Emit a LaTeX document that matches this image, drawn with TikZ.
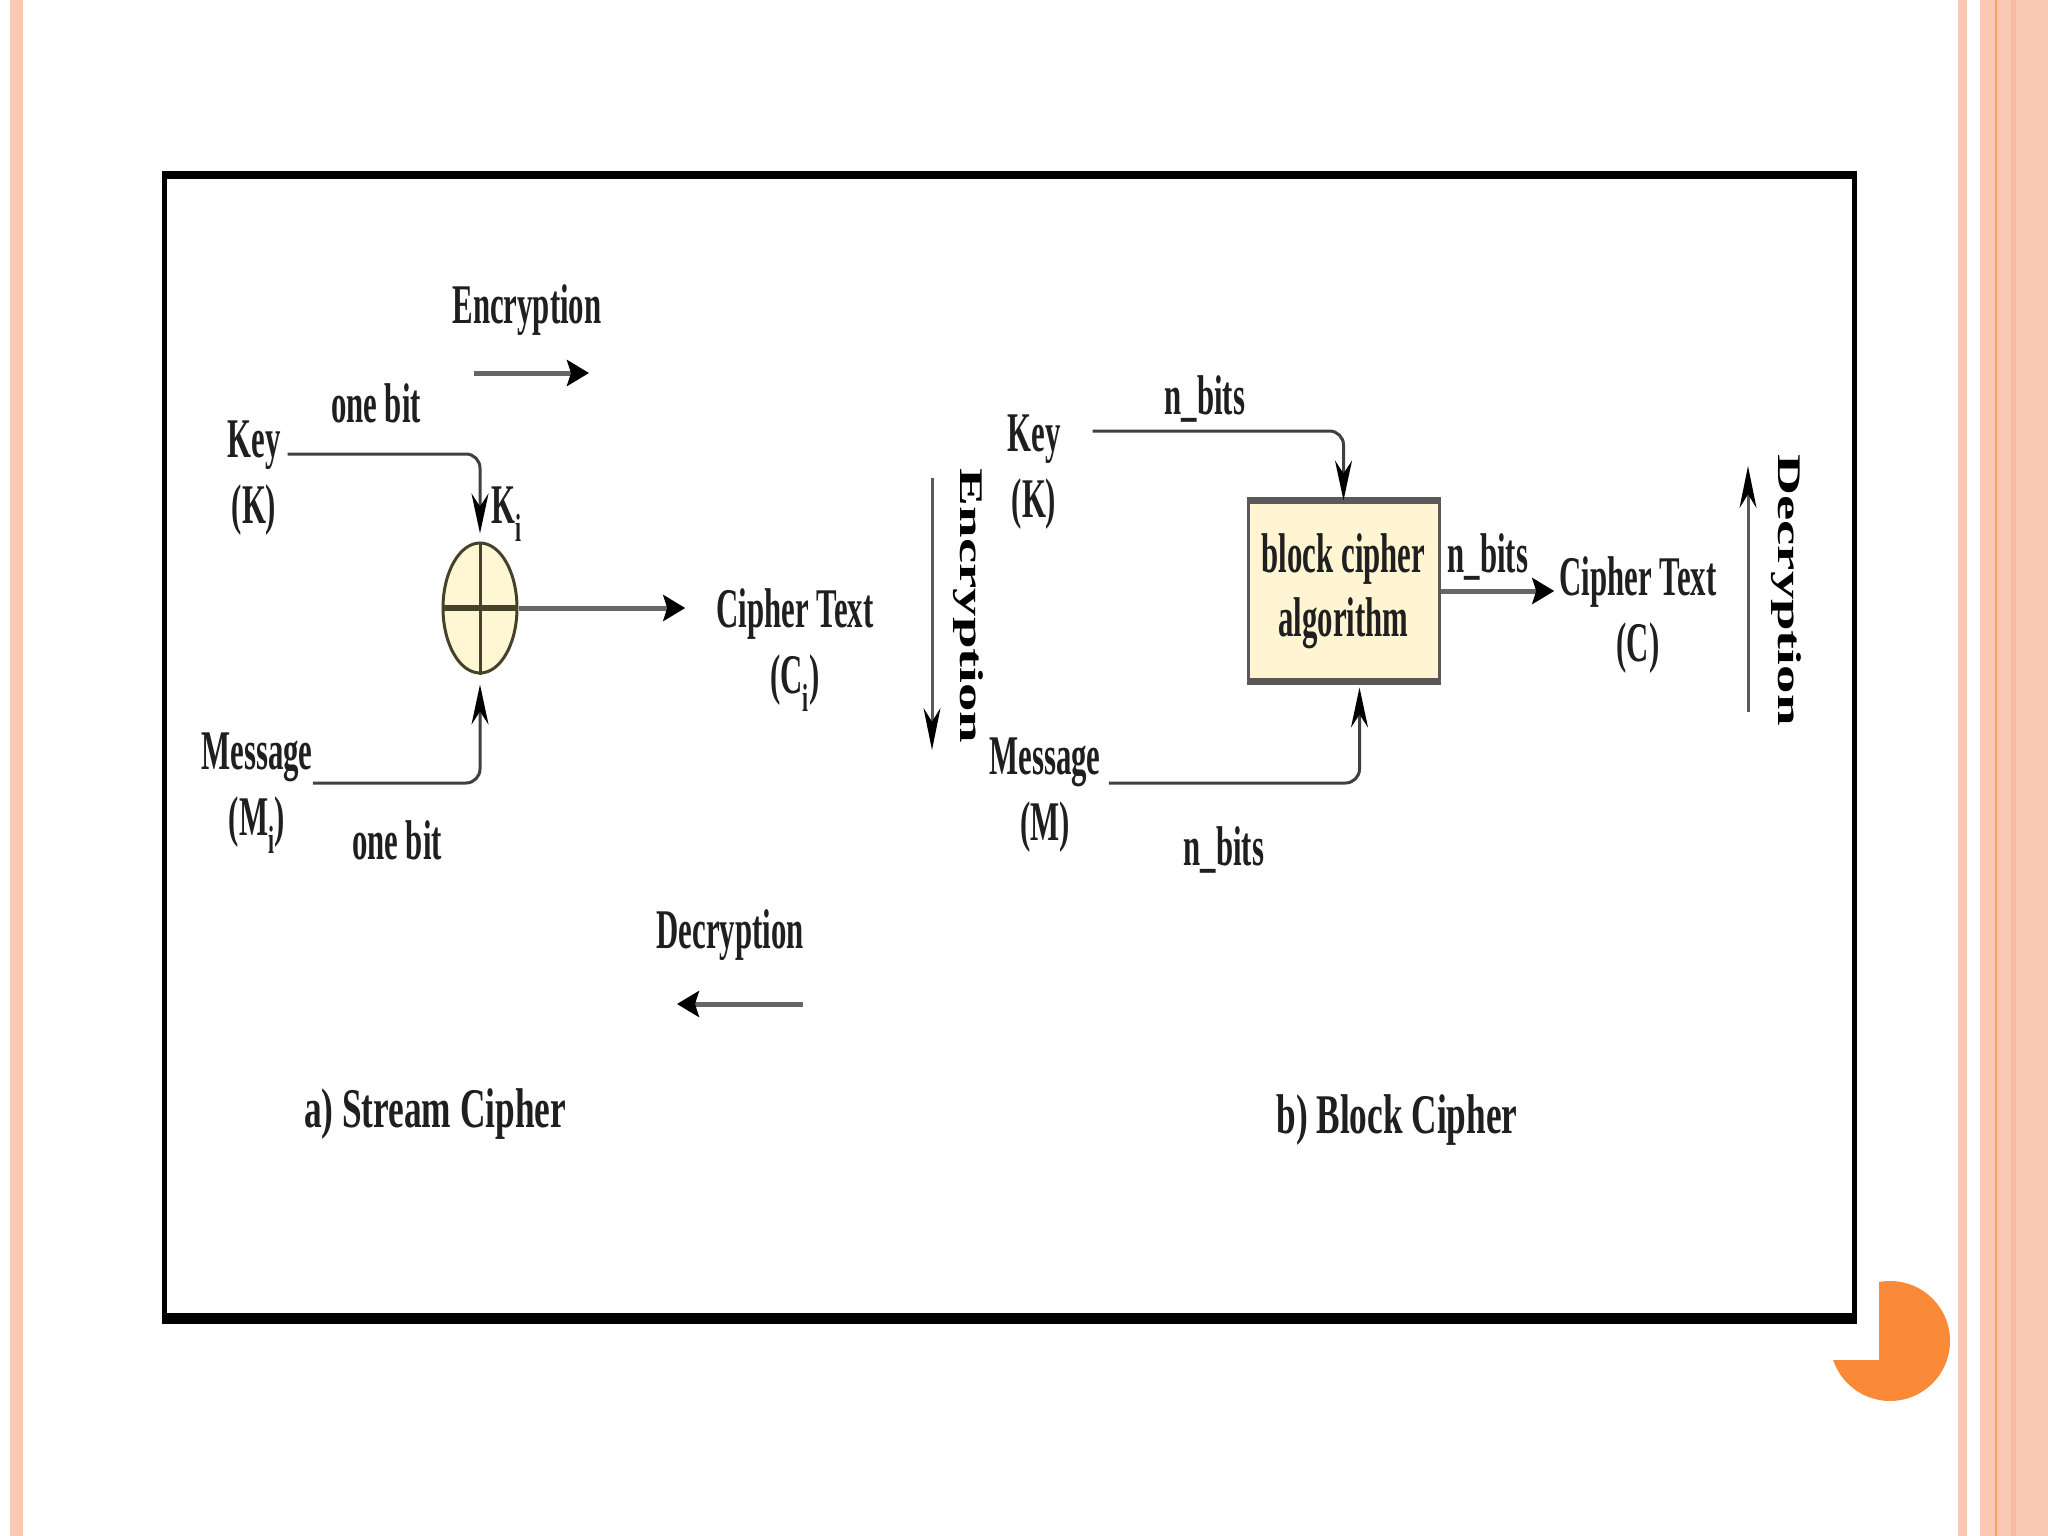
\documentclass[tikz,border=0pt]{standalone}
\usepackage{fontspec}
\setmainfont{Liberation Serif}[FakeStretch=0.55]
\newfontfamily\capfont{Liberation Serif}[FakeStretch=0.63]
\newfontfamily\rotfont{Liberation Serif}[FakeStretch=1.72]
\usetikzlibrary{arrows.meta,shapes.geometric}
\definecolor{slidepink}{RGB}{251,200,180}
\definecolor{slidepinkdk}{RGB}{247,186,162}
\definecolor{slideorange}{RGB}{250,137,56}
\definecolor{xorfill}{RGB}{255,247,212}
\definecolor{xorline}{RGB}{70,66,40}
\definecolor{boxfill}{RGB}{255,245,210}

\begin{document}
\begin{tikzpicture}[x=1pt, y=-1pt,
        lbl/.style={font=\bfseries\fontsize{56}{66}\selectfont, align=center, inner sep=0pt, text=black!88},
        rotlbl/.style={font=\rotfont\bfseries\fontsize{33}{40}\selectfont, rotate=-90, inner sep=0pt},
        caption/.style={font=\capfont\bfseries\fontsize{56}{66}\selectfont, inner sep=0pt, text=black!88},
        bent/.style={line width=3pt, draw=black!75, rounded corners=14pt, -{Stealth[length=40pt,width=17pt,color=black]}},
        harrow/.style={line width=5pt, draw=black!60, -{Stealth[length=22pt,width=26pt,inset=4pt,color=black]}},
        varrow/.style={line width=3pt, draw=black!65, -{Stealth[length=42pt,width=17pt,color=black]}},
        xor/.style={ellipse, draw=xorline, line width=3pt, fill=xorfill, minimum width=74pt, minimum height=130pt, inner sep=0pt},
        algbox/.style={rectangle, draw=black!65, line width=3pt, fill=boxfill, minimum width=191pt, minimum height=178pt,
                align=center, inner sep=0pt, text=black!88, font=\bfseries\fontsize{56}{64}\selectfont}
    ]
    \useasboundingbox (0,0) rectangle (2048,1536);
    \fill[white] (0,0) rectangle (2048,1536);
    \fill[slidepink] (10,0) rectangle (23,1536);
    \fill[slidepink] (1958,0) rectangle (1967,1536);
    \fill[slidepink] (1980,0) rectangle (2048,1536);
    \fill[slidepinkdk] (2011,0) rectangle (2016,1536);
    \draw[slideorange!80, line width=2pt] (1996,0) -- (1996,1536);
    \fill[slideorange] (1879,1360) -- (1879,1282) arc[start angle=-100.6, end angle=161.5, radius=60] -- cycle;

    \draw[line width=5pt] (164.5,175) rectangle (1854.5,1319);
    \fill (162,171) rectangle (1857,179);
    \fill (162,1313) rectangle (1857,1324);

    % stream cipher
    \node[lbl] (encl) at (527,310) {Encryption};
    \node[lbl] (bit1) at (376,403) {one bit};
    \node[lbl] (key1) at (254,478) {Key\\(K)};
    \node[xor] (xor) at (480,608) {};
    \node[lbl] (ki) at (507,514) {K\textsubscript{i}};
    \node[lbl] (ct1) at (795,650) {Cipher Text\\(C\textsubscript{i})};
    \node[lbl] (msg1) at (257,793) {Message\\(M\textsubscript{i})};
    \node[lbl] (bit2) at (397,840) {one bit};
    \node[lbl] (decl) at (730,935) {Decryption};
    \node[caption] (capa) at (435,1114) {a) Stream Cipher};
    \draw[xorline, line width=3pt] (xor.north) -- (xor.south);
    \draw[xorline, line width=6pt] ([xshift=2pt]xor.west) -- ([xshift=-2pt]xor.east);

    \coordinate (encA) at (474,373);
    \coordinate (encB) at (589,373);
    \coordinate (decA) at (803,1004);
    \coordinate (decB) at (677,1004);
    \draw[harrow] (encA) -- (encB);
    \draw[harrow] (decA) -- (decB);
    \draw[bent] ([shift={(7pt,24pt)}]key1.east) -| ([yshift=8pt]xor.north);
    \draw[bent] ([shift={(0pt,10pt)}]msg1.east) -| ([yshift=-10pt]xor.south);
    \draw[harrow, shorten >=31pt] (xor.east) -- (xor.east -| ct1.west);

    % block cipher
    \node[lbl] (bitk) at (1205,399) {n\_bits};
    \node[lbl] (key2) at (1034,472) {Key\\(K)};
    \node[algbox] (box) at (1343.5,591) {block cipher\\algorithm};
    \node[lbl] (bitc) at (1488,557) {n\_bits};
    \node[lbl] (ct2) at (1638,615) {Cipher Text\\(C)};
    \node[lbl] (msg2) at (1045,795) {Message\\(M)};
    \node[lbl] (bitm) at (1224,850) {n\_bits};
    \node[rotlbl] (encv) at (968,606) {Encryption};
    \node[rotlbl] (decv) at (1786,590) {Decryption};
    \node[caption] (capb) at (1397,1120) {b) Block Cipher};
    \draw[line width=7pt, black!65] (box.north west) -- (box.north east);
    \draw[line width=7pt, black!65] (box.south west) -- (box.south east);

    \coordinate (encT) at (932,478);
    \coordinate (encD) at (932,750);
    \coordinate (decD) at (1748,712);
    \coordinate (decT) at (1748,466);
    \draw[varrow] (encT) -- (encD);
    \draw[varrow] (decD) -- (decT);
    \draw[bent] ([shift={(32pt,41pt)}]key2.east) -| (box.north);
    \draw[bent] ([shift={(8pt,12pt)}]msg2.east) -| ([xshift=16pt,yshift=-6pt]box.south);
    \draw[harrow, shorten >=5pt] (box.east) -- (box.east -| ct2.west);
\end{tikzpicture}
\end{document}
